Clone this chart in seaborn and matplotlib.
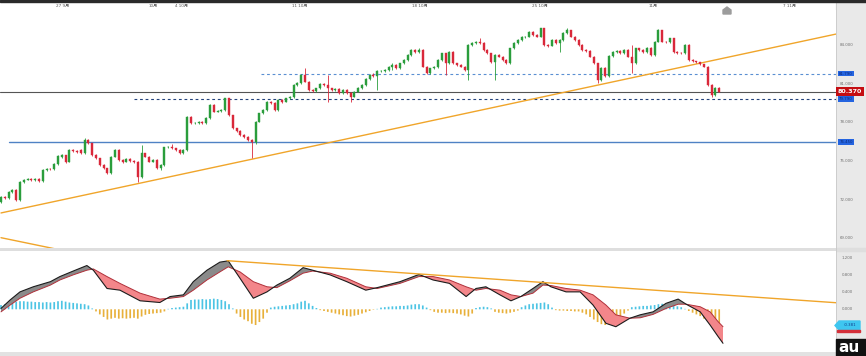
import numpy as np
import matplotlib
matplotlib.use("Agg")
import matplotlib.pyplot as plt
from matplotlib.patches import Rectangle, Polygon
import pandas as pd
import seaborn as sns

# Candles (4h bars)
opens = [
    71.84, 72.23, 72.12, 72.62, 72.75, 71.97, 73.39, 73.56, 73.60, 73.52,
    73.60, 73.45, 74.30, 74.38, 74.35, 74.77, 75.30, 75.45, 74.94, 75.85,
    75.77, 75.85, 75.62, 76.67, 76.38, 75.47, 75.21, 74.69, 74.43, 74.04,
    75.33, 75.85, 75.08, 74.95, 75.19, 75.02, 74.95, 73.78, 75.60, 75.33,
    74.95, 75.08, 74.43, 74.69, 76.06, 76.10, 75.98, 75.85, 75.64, 75.85,
    78.44, 77.92, 77.95, 78.02, 77.95, 78.31, 79.34, 78.84, 78.89, 78.97,
    79.86, 78.57, 77.54, 77.33, 77.02, 76.88, 76.63, 76.50, 78.05, 78.70,
    78.96, 79.60, 79.50, 78.96, 79.73, 79.60, 79.86, 79.96, 80.90, 81.03,
    81.67, 81.15, 80.51, 80.43, 80.64, 80.97, 80.90, 80.64, 80.51, 80.59,
    80.25, 80.51, 80.28, 79.99, 80.37, 80.66, 80.90, 81.36, 81.67, 81.59,
    81.98, 82.00, 82.06, 82.29, 82.45, 82.22, 82.58, 82.84, 83.22, 83.61,
    83.46, 83.61, 82.32, 81.80, 82.19, 82.30, 82.84, 83.36, 82.61, 83.48,
    82.58, 82.45, 82.32, 82.06, 84.00, 84.13, 84.26, 84.16, 83.61, 83.36,
    82.68, 83.22, 83.10, 82.84, 82.58, 83.74, 84.13, 84.39, 84.62, 84.65,
    85.03, 84.78, 84.65, 85.30, 84.00, 83.95, 84.39, 84.13, 84.39, 84.91,
    85.16, 84.65, 84.39, 84.00, 83.61, 83.55, 83.09, 82.58, 81.28, 82.22,
    81.59, 83.14, 83.48, 83.53, 83.36, 83.61, 83.09, 82.58, 83.74, 83.61,
    83.48, 83.77, 83.22, 84.26, 85.16, 84.26, 84.20, 84.52, 83.48, 83.40,
    83.35, 84.00, 82.84, 82.75, 82.65, 82.50, 82.32, 80.90, 80.12, 80.69,
]
highs = [
    72.30, 72.30, 72.68, 72.82, 72.80, 73.45, 73.62, 73.68, 73.66, 73.66,
    73.66, 74.36, 74.45, 74.44, 74.84, 75.46, 75.52, 75.50, 75.92, 75.90,
    75.82, 75.90, 76.81, 76.72, 76.42, 75.52, 75.25, 74.74, 74.48, 75.38,
    75.92, 75.90, 75.14, 75.25, 75.24, 75.08, 75.00, 76.24, 75.66, 75.40,
    75.14, 75.12, 74.75, 76.12, 76.18, 76.30, 76.04, 75.90, 75.92, 78.50,
    78.48, 78.02, 78.08, 78.08, 78.38, 79.40, 79.40, 78.96, 79.04, 79.92,
    79.90, 78.60, 77.60, 77.38, 77.08, 76.92, 76.68, 78.10, 78.76, 79.02,
    79.66, 79.66, 79.56, 79.80, 79.78, 79.92, 80.02, 80.96, 81.10, 81.74,
    82.24, 81.20, 80.58, 80.70, 81.04, 81.04, 81.67, 80.70, 80.66, 80.64,
    80.58, 80.56, 80.32, 80.44, 80.72, 80.96, 81.42, 81.74, 81.80, 82.04,
    82.08, 82.14, 82.36, 82.58, 82.50, 82.64, 82.90, 83.28, 83.68, 83.66,
    83.75, 83.66, 82.36, 82.25, 82.36, 82.90, 83.42, 83.42, 83.55, 83.52,
    82.64, 82.50, 82.36, 84.06, 84.20, 84.32, 84.52, 84.20, 83.66, 83.40,
    83.28, 83.28, 83.15, 82.90, 83.80, 84.20, 84.46, 84.68, 84.72, 85.10,
    85.08, 84.84, 85.36, 85.35, 84.08, 84.45, 84.44, 84.45, 84.98, 85.29,
    85.20, 84.70, 84.44, 84.05, 83.68, 83.60, 83.14, 82.62, 82.28, 82.26,
    83.20, 83.54, 83.60, 83.58, 83.68, 83.66, 84.00, 83.80, 83.80, 83.66,
    83.84, 83.82, 84.32, 85.24, 85.20, 84.32, 84.58, 84.56, 83.54, 83.46,
    84.06, 84.05, 82.90, 82.80, 82.70, 82.56, 82.36, 80.96, 80.76, 80.74,
]
lows = [
    71.75, 72.05, 72.08, 72.55, 71.90, 71.90, 73.32, 73.50, 73.46, 73.46,
    73.38, 73.40, 74.24, 74.28, 74.30, 74.72, 75.25, 74.88, 74.90, 75.70,
    75.64, 75.56, 75.58, 76.32, 75.42, 75.15, 74.64, 74.36, 73.98, 74.00,
    75.28, 75.02, 74.88, 74.90, 74.96, 74.88, 73.39, 73.72, 75.28, 74.90,
    74.90, 74.38, 74.30, 74.64, 75.98, 75.92, 75.80, 75.58, 75.58, 75.80,
    77.86, 77.86, 77.90, 77.88, 77.90, 78.26, 78.78, 78.78, 78.84, 78.92,
    78.52, 77.48, 77.28, 76.96, 76.82, 76.58, 75.21, 76.30, 78.00, 78.64,
    78.90, 79.44, 78.90, 78.90, 79.54, 79.55, 79.80, 79.92, 80.85, 80.98,
    81.10, 80.46, 80.38, 80.38, 80.60, 80.84, 79.60, 80.46, 80.45, 80.20,
    80.20, 80.22, 79.60, 79.94, 80.32, 80.60, 80.85, 81.30, 81.52, 80.51,
    81.90, 81.94, 82.00, 82.10, 82.16, 82.18, 82.52, 82.80, 83.18, 83.40,
    83.40, 82.26, 81.74, 81.75, 82.14, 82.25, 82.80, 81.67, 82.56, 82.52,
    82.40, 82.26, 81.95, 81.28, 83.95, 84.08, 84.10, 83.56, 83.30, 82.62,
    81.28, 83.04, 82.78, 82.52, 82.54, 83.70, 84.08, 84.34, 84.56, 84.60,
    84.72, 84.60, 84.60, 83.95, 83.88, 83.90, 84.08, 83.46, 84.34, 84.86,
    84.60, 84.34, 83.95, 83.56, 83.48, 83.04, 82.52, 81.05, 81.22, 81.52,
    81.55, 83.08, 83.42, 83.30, 83.30, 83.04, 81.80, 82.54, 83.56, 83.42,
    83.42, 83.16, 83.18, 84.20, 84.20, 84.14, 84.15, 83.42, 83.34, 83.28,
    83.30, 82.78, 82.68, 82.58, 82.44, 82.26, 80.84, 79.96, 80.06, 80.32,
]
closes = [
    72.23, 72.12, 72.62, 72.75, 71.97, 73.39, 73.56, 73.60, 73.52, 73.60,
    73.45, 74.30, 74.38, 74.35, 74.77, 75.39, 75.45, 74.94, 75.85, 75.77,
    75.70, 75.62, 76.67, 76.38, 75.47, 75.21, 74.69, 74.43, 74.04, 75.33,
    75.85, 75.08, 74.95, 75.19, 75.02, 74.95, 73.78, 75.60, 75.33, 74.95,
    75.08, 74.43, 74.69, 76.06, 76.10, 75.98, 75.85, 75.64, 75.85, 78.44,
    77.92, 77.95, 78.02, 77.95, 78.31, 79.34, 78.84, 78.89, 78.97, 79.86,
    78.57, 77.54, 77.33, 77.02, 76.88, 76.63, 76.50, 78.05, 78.70, 78.96,
    79.60, 79.50, 78.96, 79.73, 79.60, 79.86, 79.96, 80.90, 81.03, 81.67,
    81.15, 80.51, 80.43, 80.64, 80.97, 80.90, 80.64, 80.51, 80.59, 80.25,
    80.51, 80.28, 79.99, 80.37, 80.66, 80.90, 81.36, 81.67, 81.59, 81.98,
    82.00, 82.06, 82.29, 82.45, 82.22, 82.58, 82.84, 83.22, 83.61, 83.46,
    83.61, 82.32, 81.80, 82.19, 82.30, 82.84, 83.36, 82.61, 83.48, 82.58,
    82.45, 82.32, 82.06, 84.00, 84.13, 84.26, 84.16, 83.61, 83.36, 82.68,
    83.22, 83.10, 82.84, 82.58, 83.74, 84.13, 84.39, 84.62, 84.65, 85.03,
    84.78, 84.65, 85.30, 84.00, 83.95, 84.39, 84.13, 84.39, 84.91, 85.16,
    84.65, 84.39, 84.00, 83.61, 83.55, 83.09, 82.58, 81.28, 82.22, 81.59,
    83.14, 83.48, 83.53, 83.36, 83.61, 83.09, 82.58, 83.74, 83.61, 83.48,
    83.77, 83.22, 84.26, 85.16, 84.26, 84.20, 84.52, 83.48, 83.40, 83.35,
    84.00, 82.84, 82.75, 82.65, 82.50, 82.32, 80.90, 80.12, 80.69, 80.37,
]

# MACD histogram, one bar per candle
hist = [
    0.10, 0.12, 0.16, 0.18, 0.18, 0.19, 0.19, 0.18, 0.18, 0.17,
    0.17, 0.16, 0.17, 0.16, 0.17, 0.19, 0.20, 0.18, 0.16, 0.15,
    0.14, 0.13, 0.12, 0.09, 0.02, -0.05, -0.12, -0.18, -0.24, -0.22,
    -0.20, -0.22, -0.21, -0.22, -0.21, -0.20, -0.22, -0.17, -0.13, -0.11,
    -0.10, -0.09, -0.08, -0.05, 0.01, 0.03, 0.04, 0.05, 0.06, 0.14,
    0.22, 0.23, 0.23, 0.24, 0.23, 0.24, 0.25, 0.24, 0.22, 0.19,
    0.12, 0.02, -0.10, -0.18, -0.24, -0.28, -0.34, -0.37, -0.30, -0.22,
    -0.08, 0.04, 0.06, 0.07, 0.08, 0.09, 0.10, 0.12, 0.14, 0.18,
    0.20, 0.14, 0.08, 0.03, -0.02, -0.04, -0.06, -0.08, -0.10, -0.12,
    -0.14, -0.16, -0.17, -0.15, -0.13, -0.10, -0.07, -0.04, -0.01, 0.01,
    0.04, 0.05, 0.06, 0.07, 0.07, 0.08, 0.08, 0.09, 0.11, 0.12,
    0.12, 0.09, 0.04, -0.02, -0.06, -0.08, -0.08, -0.09, -0.08, -0.09,
    -0.10, -0.12, -0.15, -0.17, -0.10, 0.03, 0.05, 0.06, 0.05, 0.02,
    -0.06, -0.08, -0.09, -0.10, -0.08, -0.06, -0.03, 0.05, 0.09, 0.12,
    0.13, 0.14, 0.15, 0.16, 0.12, 0.04, -0.02, -0.03, -0.03, -0.04,
    -0.04, -0.05, -0.05, -0.08, -0.12, -0.18, -0.24, -0.30, -0.35, -0.37,
    -0.36, -0.32, -0.28, -0.18, -0.10, -0.03, 0.05, 0.06, 0.07, 0.08,
    0.08, 0.09, 0.10, 0.12, 0.13, 0.12, 0.12, 0.10, 0.07, 0.05,
    0.01, -0.04, -0.08, -0.12, -0.16, -0.22, -0.28, -0.33, -0.37, -0.40,
]

# MACD / signal lines, read at these candle positions
macd_pos = [0, 2.4, 5, 8.5, 13, 15.5, 19, 22.6, 24.3, 27.9,
            31.3, 36.6, 41.8, 44.5, 48, 50.6, 54.2, 57.6, 59.8, 62.9,
            66.4, 70, 72.6, 76, 79.5, 82, 86.6, 91, 96, 99,
            105, 110, 113.7, 118, 122.4, 125, 127.6, 131.3, 134.2, 136.8,
            140, 142.6, 144.7, 148.7, 152.4, 155.8, 159.2, 161.8, 165.5, 168.2,
            171.6, 175, 178.2, 180.3, 184, 186.6, 188.7, 190]
macd_line = [0.02, 0.22, 0.41, 0.53, 0.65, 0.77, 0.90, 1.03, 0.92, 0.49,
             0.45, 0.20, 0.16, 0.30, 0.34, 0.65, 0.92, 1.11, 1.14, 0.73,
             0.26, 0.41, 0.57, 0.73, 0.98, 0.92, 0.81, 0.65, 0.45, 0.51,
             0.65, 0.82, 0.69, 0.61, 0.30, 0.49, 0.53, 0.34, 0.20, 0.30,
             0.49, 0.65, 0.53, 0.41, 0.41, 0.10, -0.33, -0.41, -0.21, -0.13,
             -0.06, 0.14, 0.24, 0.12, -0.06, -0.37, -0.64, -0.80]
signal_line = [-0.06, 0.10, 0.26, 0.41, 0.57, 0.69, 0.81, 0.92, 0.95, 0.77,
               0.61, 0.38, 0.24, 0.26, 0.30, 0.45, 0.69, 0.88, 1.00, 0.88,
               0.65, 0.53, 0.51, 0.67, 0.85, 0.90, 0.85, 0.73, 0.53, 0.49,
               0.61, 0.77, 0.77, 0.69, 0.53, 0.45, 0.49, 0.45, 0.34, 0.30,
               0.38, 0.57, 0.56, 0.49, 0.45, 0.34, 0.10, -0.13, -0.21, -0.20,
               -0.12, 0.02, 0.12, 0.12, 0.06, -0.06, -0.29, -0.41]

# axis labels and levels
price_ticks = [84.0, 81.0, 78.0, 75.0, 72.0, 69.0]
macd_ticks = [1.2, 0.8, 0.4, 0.0]
date_labels = ["27 9月", "10月", "4 10月", "11 10月", "18 10月", "25 10月", "11月", "7 11月"]
date_pos = [16.3, 40, 47.6, 78.7, 110.3, 141.8, 171.6, 207.6]
last_price = 80.370
level_hi = 81.790
level_lo = 79.790
support = 76.450
macd_last = -0.381
trend_up = ([0, 219.7], [70.97, 84.85])
trend_down = ([0, 60], [69.05, 65.40])
macd_trend = ([59.5, 219.7], [1.144, 0.155])

# ---- layout (pixel based, 866 x 356) ----
W, H = 866, 356
PX = 3.8  # pixels per candle
XLIM = (-1 / PX, 835 / PX)


def fx(px):
    return px / W


def fy(py):
    return 1 - py / H


sns.set_theme(style="white")
plt.rcParams['font.family'] = ['DejaVu Sans', 'Noto Sans CJK SC']

fig = plt.figure(figsize=(W / 100, H / 100), dpi=100)
fig.patch.set_facecolor("white")

# right price strip + panel separators
fig.add_artist(Rectangle((fx(836), 0), fx(30), 1, transform=fig.transFigure,
                         color="#e9e9e9", zorder=0))
fig.add_artist(Rectangle((0, fy(251)), 1, 3 / H, transform=fig.transFigure,
                         color="#dedede", zorder=0))
fig.add_artist(Rectangle((0, 0), 1, 4 / H, transform=fig.transFigure,
                         color="#e2e2e2", zorder=0))
fig.add_artist(Rectangle((0, fy(2)), 1, 2 / H, transform=fig.transFigure,
                         color="#2a2a2a", zorder=3))
fig.add_artist(plt.Line2D([fx(836), fx(836)], [0, 1], transform=fig.transFigure,
                          color="#c8c8c8", lw=0.6, zorder=1))

ax = fig.add_axes([0, fy(248), fx(836), 238 / H])
ax2 = fig.add_axes([0, fy(352), fx(836), 101 / H])
for a in (ax, ax2):
    a.set_facecolor("white")
    for s in a.spines.values():
        s.set_visible(False)
    a.set_xticks([])
    a.set_yticks([])
    a.set_xlim(*XLIM)

ax.set_ylim(68.25, 86.72)
ax2.set_ylim(-1.005, 1.372)

# ---- candles ----
idx = np.arange(len(closes))
o = np.array(opens)
c = np.array(closes)
up = c >= o
cols = np.where(up, "#2a9d3c", "#d9283a")
ax.vlines(idx, lows, highs, colors=cols, lw=0.6, zorder=4)
ax.bar(idx, c - o, bottom=o, width=0.55, color=cols, edgecolor=cols,
       linewidth=0.3, zorder=5)

# levels
ax.axhline(last_price, color="#555555", lw=0.8, zorder=3)
ax.plot([2.1, XLIM[1]], [support, support], color="#4f82c4", lw=1.0, zorder=3)
ax.plot([68.4, XLIM[1]], [level_hi, level_hi], color="#5a8fd2", lw=0.8,
        ls=(0, (2.5, 2.5)), zorder=3)
ax.plot([35.0, XLIM[1]], [level_lo, level_lo], color="#23427c", lw=0.8,
        ls=(0, (2.5, 2.5)), zorder=3)
ax.plot(*trend_up, color="#f0a52a", lw=1.0, zorder=3)
ax.plot(*trend_down, color="#f0a52a", lw=1.0, zorder=3)

# ---- MACD panel ----
hv = np.array(hist)
hcols = np.where(hv >= 0, "#4cc4e4", "#e8b03a")
ax2.bar(idx, hv, width=0.45, color=hcols, linewidth=0, snap=False, zorder=2)

mdf = pd.DataFrame({"pos": macd_pos, "macd": macd_line, "signal": signal_line})
m = mdf["macd"].to_numpy()
s = mdf["signal"].to_numpy()
ax2.fill_between(mdf["pos"], m, s, where=m >= s, interpolate=True,
                 color="#8a8a8a", lw=0, zorder=3)
ax2.fill_between(mdf["pos"], m, s, where=m < s, interpolate=True,
                 color="#f3868a", lw=0, zorder=3)
sns.lineplot(data=mdf, x="pos", y="signal", ax=ax2, color="#b0303a", lw=0.7, zorder=4)
sns.lineplot(data=mdf, x="pos", y="macd", ax=ax2, color="#1c1c1c", lw=0.8, zorder=5)
ax2.plot(*macd_trend, color="#f0a52a", lw=1.0, zorder=6)
ax2.set_xlabel("")
ax2.set_ylabel("")
ax2.set_xlim(*XLIM)
ax2.set_ylim(-1.005, 1.372)

# ---- right axis labels ----
fig.canvas.draw()


def yfig(a, v):
    return a.transData.transform((0, v))[1] / H


for t in price_ticks:
    fig.text(fx(847), yfig(ax, t), f"{t:.3f}", fontsize=2.8, color="#707070",
             ha="center", va="center")
for t in macd_ticks:
    fig.text(fx(847), yfig(ax2, t), f"{t:.3f}", fontsize=2.8, color="#707070",
             ha="center", va="center")

for v in (level_hi, level_lo, support):
    fig.text(fx(846), yfig(ax, v), f"{v:.3f}", fontsize=2.8, color="#0c2a7a",
             ha="center", va="center",
             bbox=dict(boxstyle="square,pad=0.25", fc="#2464e0", ec="none"))
fig.text(fx(850), yfig(ax, last_price), f"{last_price:.3f}", fontsize=4.6,
         color="white", weight="bold", ha="center", va="center",
         bbox=dict(boxstyle="square,pad=0.3", fc="#c40d12", ec="none"))

# MACD value tag
ym = yfig(ax2, macd_last) * H
tag = [(835, ym), (839, ym + 4.5), (860, ym + 4.5), (860, ym - 4.5), (839, ym - 4.5)]
fig.add_artist(Polygon([(x / W, y / H) for x, y in tag], closed=True,
                       transform=fig.transFigure, color="#3ec6f0", zorder=5))
fig.add_artist(Rectangle((fx(837), (ym - 6.5) / H), fx(23), 1.6 / H,
                         transform=fig.transFigure, color="#d4303a", zorder=5))
fig.text(fx(850), ym / H, f"{macd_last:.3f}", fontsize=2.8, color="#123a8a",
         ha="center", va="center", zorder=6)

# date labels along the top
for lab, p in zip(date_labels, date_pos):
    xp = 1 + p * PX
    fig.text(fx(xp), fy(5.5), lab, fontsize=3, color="#555555",
             ha="center", va="center")

# small marker at top
house = [(723, 14), (723, 10), (727, 7), (731, 10), (731, 14)]
fig.add_artist(Polygon([(fx(x), fy(y)) for x, y in house], closed=True,
                       transform=fig.transFigure, color="#9c9c9c", zorder=5))

# logo
fig.add_artist(Rectangle((fx(836), 0), fx(30), 17 / H, transform=fig.transFigure,
                         color="#111111", zorder=5))
fig.text(fx(849), fy(348), "au", fontsize=11, color="white", weight="bold",
         ha="center", va="center", zorder=6)

fig.savefig("out.png", dpi=100)
plt.close(fig)
